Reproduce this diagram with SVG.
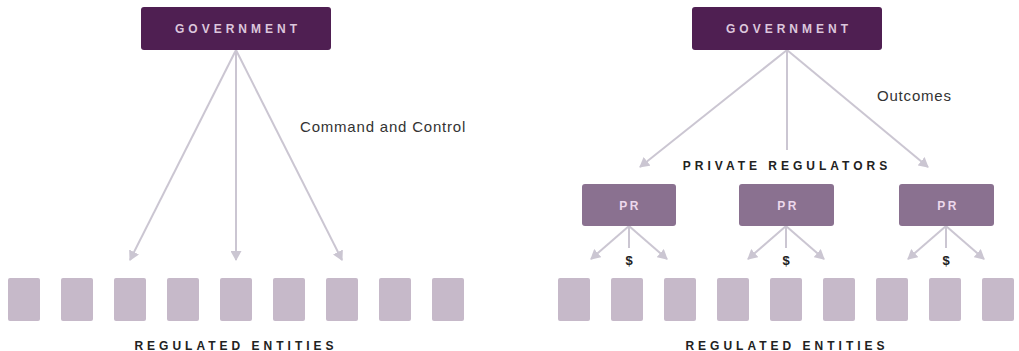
<svg xmlns="http://www.w3.org/2000/svg" width="1019" height="351" viewBox="0 0 1019 351">
<defs>
<marker id="ah" markerWidth="11" markerHeight="11" refX="9" refY="5.5" orient="auto" markerUnits="userSpaceOnUse">
<path d="M0,0 L10,5.5 L0,11 Z" fill="#cbc6d2"/>
</marker>
<style>
.gov{fill:#4f1f52}
.pr{fill:#8a7190}
.ent{fill:#c6b9c9}
.conn{stroke:#cbc6d2;stroke-width:2;fill:none}
.arr{marker-end:url(#ah)}
.lbl{font-family:"Liberation Sans",Arial,sans-serif;font-weight:bold;text-anchor:middle}
.govt{fill:#dcc6dc;font-size:12px;letter-spacing:4px}
.prt{fill:#ecd8ec;font-size:12px;letter-spacing:2.5px}
.head{fill:#222;font-size:12px;letter-spacing:4px}
.note{font-family:"Liberation Sans",Arial,sans-serif;font-size:15px;fill:#333;letter-spacing:0.8px}
.dol{fill:#222;font-size:13px}
</style>
</defs>
<rect width="1019" height="351" fill="#ffffff"/>

<g id="connectors">
<line class="conn arr" x1="236" y1="50" x2="130" y2="260"/>
<line class="conn arr" x1="236" y1="50" x2="236" y2="260"/>
<line class="conn arr" x1="236" y1="50" x2="342" y2="260"/>
<line class="conn arr" x1="787" y1="50" x2="640" y2="167"/>
<line class="conn" x1="787" y1="50" x2="787" y2="150"/>
<line class="conn arr" x1="787" y1="50" x2="928" y2="167"/>
<line class="conn arr" x1="629" y1="226" x2="591" y2="259"/>
<line class="conn" x1="629" y1="226" x2="629" y2="248"/>
<line class="conn arr" x1="629" y1="226" x2="667" y2="259"/>
<line class="conn arr" x1="786" y1="226" x2="748" y2="259"/>
<line class="conn" x1="786" y1="226" x2="786" y2="248"/>
<line class="conn arr" x1="786" y1="226" x2="824" y2="259"/>
<line class="conn arr" x1="946" y1="226" x2="908" y2="259"/>
<line class="conn" x1="946" y1="226" x2="946" y2="248"/>
<line class="conn arr" x1="946" y1="226" x2="984" y2="259"/>
</g>

<g id="gov-left">
<rect class="gov" x="141" y="7" width="190" height="43" rx="3"/>
<text class="lbl govt" x="238" y="33">GOVERNMENT</text>
</g>
<g id="gov-right">
<rect class="gov" x="692" y="7" width="190" height="43" rx="3"/>
<text class="lbl govt" x="789" y="33">GOVERNMENT</text>
</g>

<g id="label-cc"><text class="note" x="300" y="132">Command and Control</text></g>
<g id="label-outcomes"><text class="note" x="877" y="101">Outcomes</text></g>
<g id="label-pr"><text class="lbl head" x="787" y="170">PRIVATE REGULATORS</text></g>

<g id="pr1"><rect class="pr" x="582" y="184" width="94" height="42" rx="3"/><text class="lbl prt" x="630" y="210">PR</text></g>
<g id="pr2"><rect class="pr" x="739" y="184" width="95" height="42" rx="3"/><text class="lbl prt" x="788" y="210">PR</text></g>
<g id="pr3"><rect class="pr" x="899" y="184" width="95" height="42" rx="3"/><text class="lbl prt" x="948" y="210">PR</text></g>

<g id="dollars">
<text class="lbl dol" x="629" y="265">$</text>
<text class="lbl dol" x="786" y="265">$</text>
<text class="lbl dol" x="946" y="265">$</text>
</g>

<g id="entities-left">
<rect class="ent" x="8" y="278" width="32" height="43" rx="2"/>
<rect class="ent" x="61" y="278" width="32" height="43" rx="2"/>
<rect class="ent" x="114" y="278" width="32" height="43" rx="2"/>
<rect class="ent" x="167" y="278" width="32" height="43" rx="2"/>
<rect class="ent" x="220" y="278" width="32" height="43" rx="2"/>
<rect class="ent" x="273" y="278" width="32" height="43" rx="2"/>
<rect class="ent" x="326" y="278" width="32" height="43" rx="2"/>
<rect class="ent" x="379" y="278" width="32" height="43" rx="2"/>
<rect class="ent" x="432" y="278" width="32" height="43" rx="2"/>
<text class="lbl head" x="236" y="350">REGULATED ENTITIES</text>
</g>
<g id="entities-right">
<rect class="ent" x="558" y="278" width="32" height="43" rx="2"/>
<rect class="ent" x="611" y="278" width="32" height="43" rx="2"/>
<rect class="ent" x="664" y="278" width="32" height="43" rx="2"/>
<rect class="ent" x="717" y="278" width="32" height="43" rx="2"/>
<rect class="ent" x="770" y="278" width="32" height="43" rx="2"/>
<rect class="ent" x="823" y="278" width="32" height="43" rx="2"/>
<rect class="ent" x="876" y="278" width="32" height="43" rx="2"/>
<rect class="ent" x="929" y="278" width="32" height="43" rx="2"/>
<rect class="ent" x="982" y="278" width="32" height="43" rx="2"/>
<text class="lbl head" x="787" y="350">REGULATED ENTITIES</text>
</g>
</svg>
